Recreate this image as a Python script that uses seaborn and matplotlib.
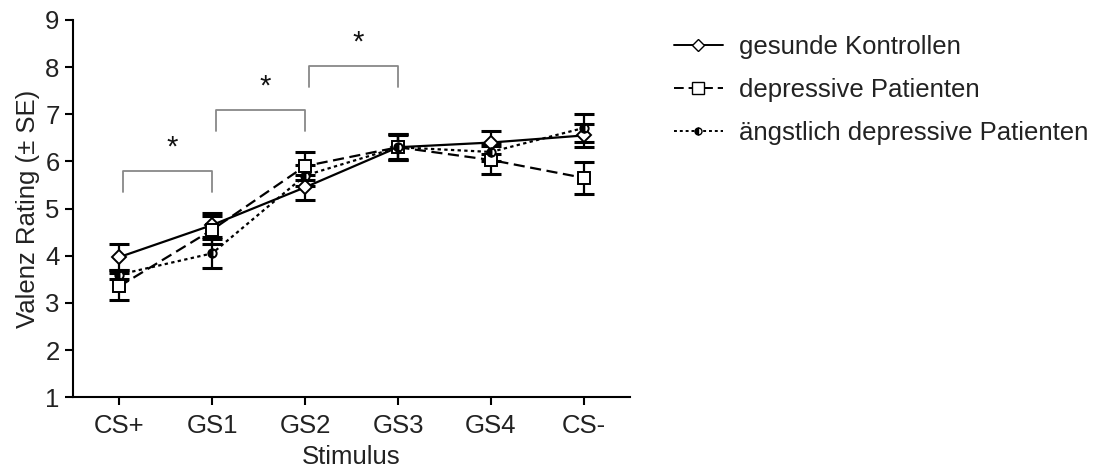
import numpy as np
import pandas as pd
import matplotlib
matplotlib.use("Agg")
import matplotlib.pyplot as plt
import seaborn as sns
from matplotlib.lines import Line2D

stimuli = ["CS+", "GS1", "GS2", "GS3", "GS4", "CS-"]
groups = ["gesunde Kontrollen", "depressive Patienten", "ängstlich depressive Patienten"]
kontrollen = [3.97, 4.65, 5.45, 6.30, 6.40, 6.55]
kontrollen_se = [0.27, 0.25, 0.27, 0.25, 0.24, 0.25]
depressive = [3.35, 4.55, 5.90, 6.30, 6.03, 5.65]
depressive_se = [0.28, 0.30, 0.30, 0.28, 0.30, 0.34]
aengstlich = [3.60, 4.05, 5.70, 6.30, 6.20, 6.71]
aengstlich_se = [0.10, 0.30, 0.22, 0.28, 0.20, 0.30]
brackets = [("CS+", "GS1", 5.80), ("GS1", "GS2", 7.09), ("GS2", "GS3", 8.02)]

sns.set_theme(style="ticks")
plt.rcParams["font.family"] = ["Liberation Sans", "DejaVu Sans"]

FS = 18.5

df = pd.concat([
    pd.DataFrame({"Stimulus": stimuli, "x": np.arange(len(stimuli)), "Rating": v, "SE": s, "Gruppe": g})
    for v, s, g in zip([kontrollen, depressive, aengstlich],
                       [kontrollen_se, depressive_se, aengstlich_se], groups)
])

fig = plt.figure(figsize=(11.02, 4.74), dpi=100)
ax = fig.add_axes([0.066, 0.162, 0.506, 0.796])

styles = {
    groups[0]: dict(ls="-", marker="D", ms=7, mfc="white", fs="full", dashes=None),
    groups[1]: dict(ls="--", marker="s", ms=9, mfc="white", fs="full", dashes=(5, 2.5)),
    groups[2]: dict(ls=":", marker="o", ms=6, mfc="black", fs="left", dashes=(1.5, 1.5)),
}

handles = []
for g in groups:
    st = styles[g]
    sub = df[df["Gruppe"] == g]
    ax.errorbar(sub["x"], sub["Rating"], yerr=sub["SE"], fmt="none", ecolor="black",
                elinewidth=1.6, capsize=7, capthick=2.2, zorder=3)
    sns.lineplot(data=sub, x="x", y="Rating", ax=ax, color="black", lw=1.6,
                 linestyle=st["ls"], marker=st["marker"], markersize=st["ms"],
                 markerfacecolor=st["mfc"], markeredgecolor="black", markeredgewidth=1.4,
                 fillstyle=st["fs"], markerfacecoloralt="white", errorbar=None,
                 legend=False, zorder=4)
    line = ax.lines[-1]
    if st["dashes"] is not None:
        line.set_dashes(st["dashes"])
    h = Line2D([0], [0], color="black", lw=1.4, linestyle=st["ls"], marker=st["marker"],
               markersize=st["ms"] - 1, markerfacecolor=st["mfc"], markeredgecolor="black",
               fillstyle=st["fs"], markerfacecoloralt="white")
    if st["dashes"] is not None:
        h.set_dashes(st["dashes"])
    handles.append(h)

for a, b, y in brackets:
    xa, xb = stimuli.index(a), stimuli.index(b)
    ax.plot([xa + 0.04, xa + 0.04, xb, xb], [y - 0.45, y, y, y - 0.45], color="#888888", lw=1.3)
    ax.text((xa + xb) / 2 + 0.07, y + 0.5, "*", ha="center", va="center", fontsize=21,
            color="#111111")

ax.set_xlim(-0.5, 5.5)
ax.set_ylim(1, 9)
ax.set_yticks(range(1, 10))
ax.set_xticks(range(len(stimuli)))
ax.set_xticklabels(stimuli)
ax.set_xlabel("Stimulus", fontsize=FS, labelpad=5, color="#222222")
ax.set_ylabel("Valenz Rating (± SE)", fontsize=FS, labelpad=4, color="#222222")
ax.tick_params(labelsize=FS, width=1.5, length=6, color="black", labelcolor="#222222")
ax.tick_params(axis="x", pad=6)
for sp in ["left", "bottom"]:
    ax.spines[sp].set_linewidth(1.5)
    ax.spines[sp].set_color("black")
sns.despine(ax=ax)

leg = fig.legend(handles=handles, labels=groups, loc="upper left", bbox_to_anchor=(0.602, 0.948),
                 frameon=False, fontsize=FS, handlelength=1.9, labelspacing=0.74,
                 handletextpad=0.65, borderaxespad=0)
for t in leg.get_texts():
    t.set_color("#222222")

fig.savefig("out.png", dpi=100)
